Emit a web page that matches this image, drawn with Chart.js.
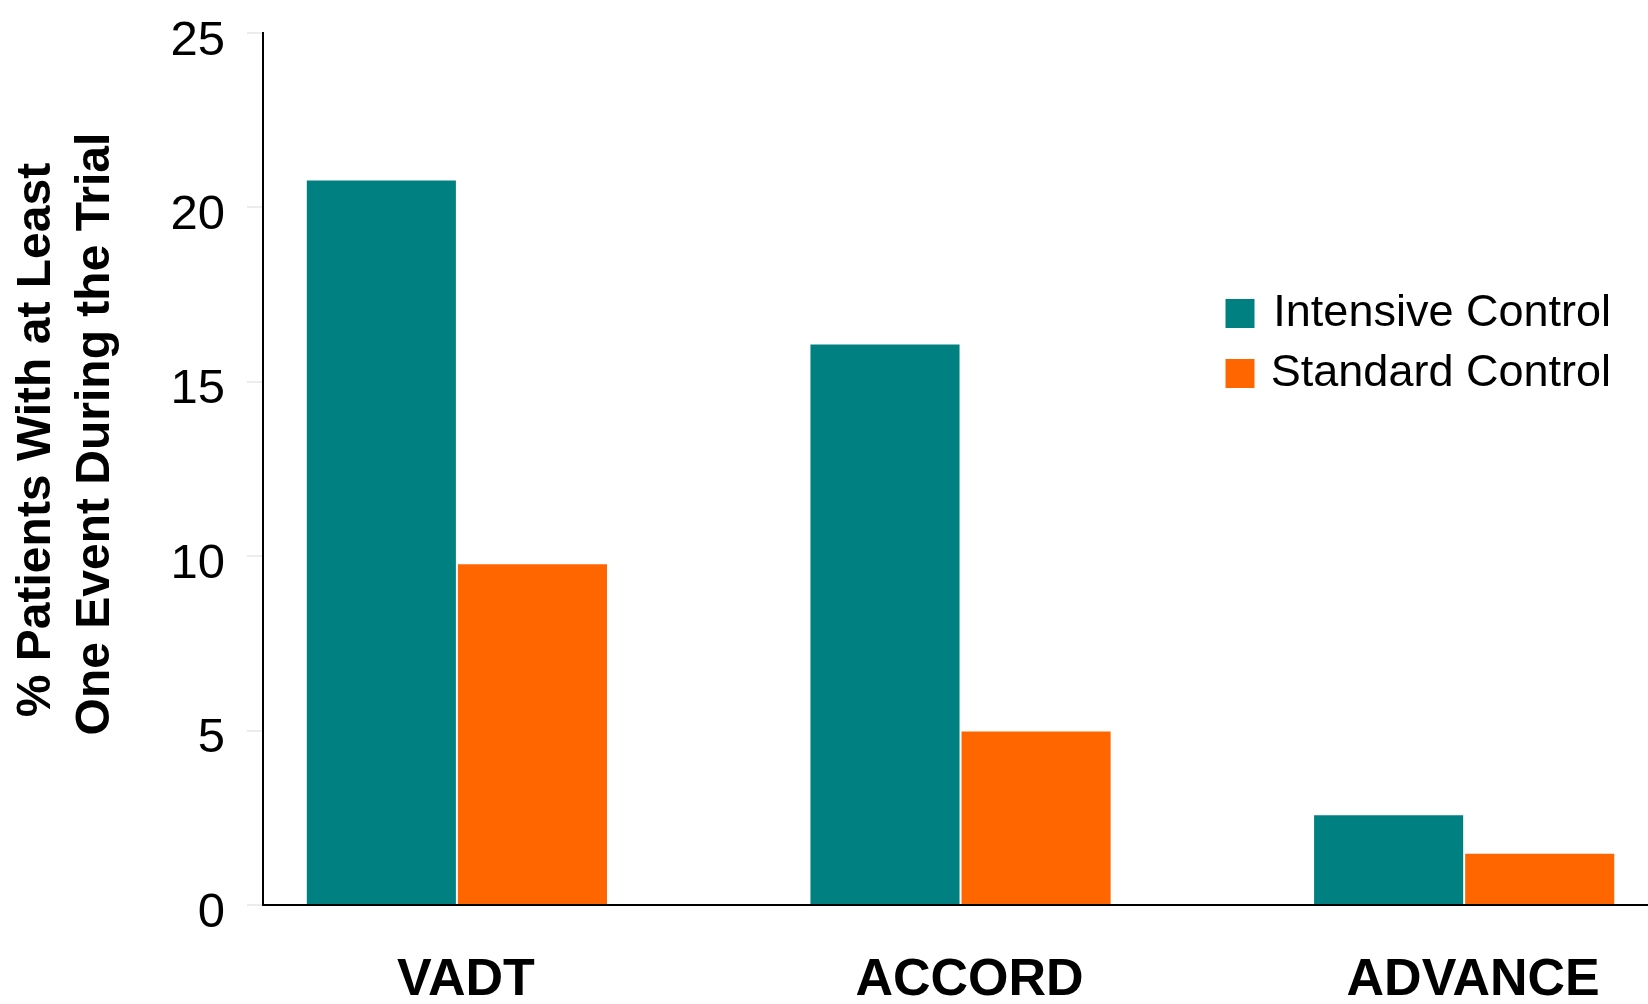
<!DOCTYPE html>
<html>
<head>
<meta charset="utf-8">
<script src="https://cdn.jsdelivr.net/npm/chart.js@4.4.1/dist/chart.umd.min.js"></script>
<style>
  html, body { margin: 0; padding: 0; background: #ffffff; overflow: hidden; }
  #wrap { width: 1648px; height: 1004px; position: relative; }
  canvas { display: block; }
</style>
</head>
<body>
<div id="wrap"><canvas id="chart" width="1648" height="1004"></canvas></div>
<script>
// Trials and the share of patients with at least one event
const categories = ['VADT', 'ACCORD', 'ADVANCE'];
const intensiveControl = [20.8, 16.1, 2.6];
const standardControl = [9.8, 5.0, 1.5];
const seriesNames = ['Intensive Control', 'Standard Control'];
const yTicks = [0, 5, 10, 15, 20, 25];
const yTitleLines = ['% Patients With at Least', 'One Event During the Trial'];

const FONT = '"Liberation Sans", Arial, Helvetica, sans-serif';
const TEAL = '#008080';
const ORANGE = '#FF6600';

const toPoints = (vals) => vals.map((v, i) => ({ x: i, y: v }));

// Rotated two-line title for the value axis
const yTitlePlugin = {
  id: 'yTitle',
  afterDraw(chart) {
    const ctx = chart.ctx;
    const mid = (chart.chartArea.top + chart.chartArea.bottom) / 2 - 32;
    const lines = [[50, mid + 3], [109, mid - 3]];
    ctx.save();
    ctx.font = 'bold 48px ' + FONT;
    ctx.fillStyle = '#000';
    ctx.textAlign = 'center';
    ctx.textBaseline = 'alphabetic';
    yTitleLines.forEach((t, i) => {
      ctx.save();
      ctx.translate(lines[i][0], lines[i][1]);
      ctx.rotate(-Math.PI / 2);
      ctx.fillText(t, 0, 0);
      ctx.restore();
    });
    ctx.restore();
  }
};

// Place the legend block to the right, mid-height inside the plot;
// labels are right-aligned to a common end
const legendPlacePlugin = {
  id: 'legendPlace',
  afterLayout(chart) {
    const l = chart.legend;
    if (!l) return;
    const h = 200;
    l.left = 1210; l.top = 276;
    l.right = 1611; l.bottom = l.top + h;
    l.width = l.right - l.left;
    l.height = h;
  }
};

new Chart(document.getElementById('chart'), {
  type: 'bar',
  data: {
    datasets: [
      { label: seriesNames[0], data: toPoints(intensiveControl), backgroundColor: TEAL, borderColor: '#ffffff', borderWidth: 1 },
      { label: seriesNames[1], data: toPoints(standardControl), backgroundColor: ORANGE, borderColor: '#ffffff', borderWidth: 1 }
    ]
  },
  options: {
    responsive: false,
    animation: false,
    devicePixelRatio: 1,
    categoryPercentage: 0.6,
    barPercentage: 1.0,
    layout: { padding: { top: 33, left: 0, right: 0, bottom: 0 } },
    plugins: {
      tooltip: { enabled: false },
      legend: {
        position: 'chartArea',
        align: 'start',
        labels: {
          boxWidth: 30,
          boxHeight: 30,
          padding: 15,
          color: '#000',
          textAlign: 'right',
          font: { family: FONT, size: 45 }
        }
      }
    },
    scales: {
      x: {
        type: 'linear',
        min: -0.385,
        max: 2.365,
        offset: false,
        grid: { display: false, drawTicks: false },
        border: { display: true, color: '#000', width: 2 },
        afterBuildTicks: (s) => { s.ticks = categories.map((c, i) => ({ value: i })); },
        afterFit: (s) => { s.height = 99; s.paddingLeft = 0; s.paddingRight = 0; },
        ticks: {
          autoSkip: false,
          maxRotation: 0,
          padding: 44,
          labelOffset: 9,
          color: '#000',
          font: { family: FONT, size: 52, weight: 'bold' },
          callback: (v) => categories[v]
        }
      },
      y: {
        min: 0,
        max: 25,
        afterBuildTicks: (s) => { s.ticks = yTicks.map((v) => ({ value: v })); },
        afterFit: (s) => { s.width = 263; s.paddingTop = 0; s.paddingBottom = 0; },
        grid: { drawOnChartArea: false, drawTicks: true, tickLength: 16, color: '#ececec', lineWidth: 2 },
        border: { display: true, color: '#000', width: 2 },
        ticks: {
          padding: 22,
          labelOffset: 8,
          color: '#000',
          font: { family: FONT, size: 49 }
        }
      }
    }
  },
  plugins: [yTitlePlugin, legendPlacePlugin]
});
</script>
</body>
</html>
